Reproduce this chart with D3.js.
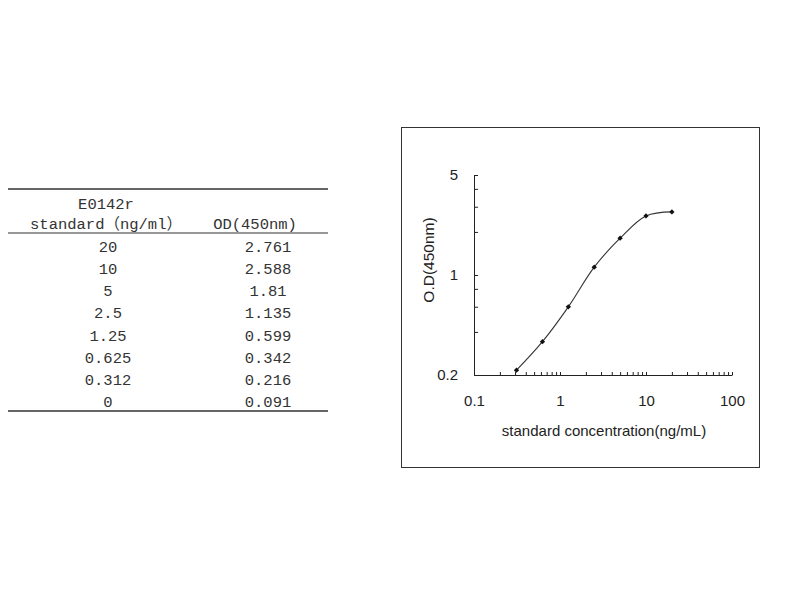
<!DOCTYPE html>
<html lang="en">
<head>
<meta charset="utf-8">
<title>E0142r standard curve</title>
<script src="https://cdn.jsdelivr.net/npm/d3@7/dist/d3.min.js"></script>
<style>
	body {margin: 0; background: white;}
	.table text {font-family: "Liberation Mono", "Noto Sans CJK SC", monospace; font-size: 15.5px; fill: #333;}
	.chart text {font-family: "Liberation Sans", Arial, sans-serif; font-size: 15px; fill: #222;}
	.axis path, .axis line {stroke: #222;}
</style>
</head>
<body>
<svg width="800" height="600"></svg>
<script>
// table values (first column = standard, second = OD)
var concentrations = ["20", "10", "5", "2.5", "1.25", "0.625", "0.312", "0"];
var odValues = ["2.761", "2.588", "1.81", "1.135", "0.599", "0.342", "0.216", "0.091"];
var headerLines = ["E0142r", "standard（ng/ml）"];
var odHeader = "OD(450nm)";

// axis ticks
var xTickLabels = [0.1, 1, 10, 100];
var yTickLabels = [0.2, 1, 5];
var yMinorTicks = [0.4, 0.6, 0.8, 2, 3, 4];

var svg = d3.select("svg");

/// ---------- table ----------
var gTable = svg.append("g").classed("table", true);

var rowScale = d3.scaleLinear()
	.domain([0, concentrations.length - 1])
	.range([248, 403]);

gTable.append("line").attr("x1", 8).attr("x2", 328).attr("y1", 189).attr("y2", 189)
	.attr("stroke", "#333").attr("stroke-width", 1.6);
gTable.append("line").attr("x1", 8).attr("x2", 328).attr("y1", 233).attr("y2", 233)
	.attr("stroke", "#333").attr("stroke-width", 1.2);
gTable.append("line").attr("x1", 8).attr("x2", 328).attr("y1", 411).attr("y2", 411)
	.attr("stroke", "#333").attr("stroke-width", 1.6);

gTable.selectAll("text.head")
	.data(headerLines)
	.enter()
	.append("text")
		.classed("head", true)
		.attr("x", 106)
		.attr("y", function (d, i) { return 205 + i * 20; })
		.attr("text-anchor", "middle")
		.attr("dominant-baseline", "central")
		.text(function (d) { return d; });

gTable.append("text")
	.attr("x", 255)
	.attr("y", 225)
	.attr("text-anchor", "middle")
	.attr("dominant-baseline", "central")
	.text(odHeader);

gTable.selectAll("text.conc")
	.data(concentrations)
	.enter()
	.append("text")
		.classed("conc", true)
		.attr("x", 108)
		.attr("y", function (d, i) { return rowScale(i); })
		.attr("text-anchor", "middle")
		.attr("dominant-baseline", "central")
		.text(function (d) { return d; });

gTable.selectAll("text.od")
	.data(odValues)
	.enter()
	.append("text")
		.classed("od", true)
		.attr("x", 268)
		.attr("y", function (d, i) { return rowScale(i); })
		.attr("text-anchor", "middle")
		.attr("dominant-baseline", "central")
		.text(function (d) { return d; });

/// ---------- chart ----------
var gChart = svg.append("g").classed("chart", true);

gChart.append("rect")
	.attr("x", 401.5).attr("y", 127.5)
	.attr("width", 358).attr("height", 340)
	.attr("fill", "white")
	.attr("stroke", "#333")
	.attr("stroke-width", 1);

var xScale = d3.scaleLog().domain([0.1, 100]).range([474, 732]);
var yScale = d3.scaleLog().domain([0.2, 5]).range([375, 175]);

var xAxis = d3.axisBottom(xScale)
	.tickValues(xScale.ticks())
	.tickFormat(function (d) { return xTickLabels.indexOf(+d.toPrecision(3)) >= 0 ? d3.format("~g")(d) : ""; })
	.tickSizeInner(-3)
	.tickSizeOuter(0)
	.tickPadding(20);

gChart.append("g")
	.classed("axis", true)
	.attr("transform", "translate(0," + 375 + ")")
	.call(xAxis);

var yAxis = d3.axisLeft(yScale)
	.tickValues(yTickLabels.concat(yMinorTicks))
	.tickFormat(function (d) { return yTickLabels.indexOf(d) >= 0 ? d3.format("~g")(d) : ""; })
	.tickSizeInner(-4)
	.tickSizeOuter(0)
	.tickPadding(16);

gChart.append("g")
	.classed("axis", true)
	.attr("transform", "translate(" + 474 + ",0)")
	.call(yAxis);

// let the css decide the font of tick labels
gChart.selectAll(".axis").attr("font-family", null).attr("font-size", null);
gChart.selectAll(".axis text").attr("fill", "#222");

// axis titles
gChart.append("text")
	.attr("x", 604)
	.attr("y", 436)
	.attr("text-anchor", "middle")
	.text("standard concentration(ng/mL)");

gChart.append("text")
	.attr("transform", "translate(434, 260) rotate(-90)")
	.attr("text-anchor", "middle")
	.style("font-size", "15.5px")
	.text("O.D(450nm)");

// points (zero standard can't be shown on the log axis)
var points = concentrations
	.map(function (c, i) { return {x: +c, y: +odValues[i]}; })
	.filter(function (d) { return d.x > 0; })
	.sort(function (a, b) { return a.x - b.x; });

var ligne = d3.line()
	.x(function (d) { return xScale(d.x); })
	.y(function (d) { return yScale(d.y); })
	.curve(d3.curveCatmullRom.alpha(0.5));

gChart.append("path")
	.datum(points)
	.attr("d", ligne)
	.attr("fill", "none")
	.attr("stroke", "#333")
	.attr("stroke-width", 1.1);

gChart.selectAll("path.point")
	.data(points)
	.enter()
	.append("path")
		.classed("point", true)
		.attr("d", d3.symbol().type(d3.symbolSquare).size(14))
		.attr("transform", function (d) { return "translate(" + xScale(d.x) + "," + yScale(d.y) + ") rotate(45)"; })
		.attr("fill", "#111");
</script>
</body>
</html>
